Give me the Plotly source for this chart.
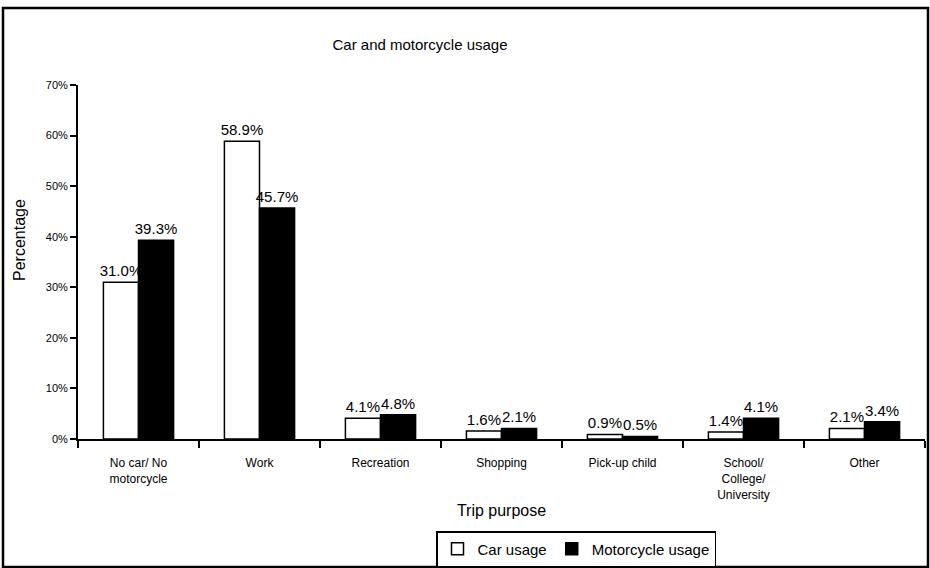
import plotly.graph_objects as go

# Trip purposes and shares of respondents (%)
categories = ["No car/ No<br>motorcycle", "Work", "Recreation", "Shopping",
              "Pick-up child", "School/<br>College/<br>University", "Other"]
car_usage = [31.0, 58.9, 4.1, 1.6, 0.9, 1.4, 2.1]
motorcycle_usage = [39.3, 45.7, 4.8, 2.1, 0.5, 4.1, 3.4]
y_ticks = [0, 10, 20, 30, 40, 50, 60, 70]
y_tick_labels = [f"{v}%" for v in y_ticks]

W, H = 930, 568
L, R, T, B = 78, 5, 85, 129
FONT = "Liberation Sans, Arial, sans-serif"

fig = go.Figure()
fig.add_trace(go.Bar(
    name="Car usage", x=categories, y=car_usage,
    marker=dict(color="white", line=dict(color="black", width=1.5)),
    text=[f"{v:.1f}%" for v in car_usage], textposition="outside",
    constraintext="none",
    textfont=dict(size=15, color="black", family=FONT), cliponaxis=False,
))
fig.add_trace(go.Bar(
    name="Motorcycle usage", x=categories, y=motorcycle_usage,
    marker=dict(color="black", line=dict(color="black", width=1.5)),
    text=[f"{v:.1f}%" for v in motorcycle_usage], textposition="outside",
    constraintext="none",
    textfont=dict(size=15, color="black", family=FONT), cliponaxis=False,
))

pw = W - L - R
ph = H - T - B

def px_x(x):
    return (x - L) / pw

def px_y(y):
    return (H - B - y) / ph

fig.update_layout(
    width=W, height=H,
    margin=dict(l=L, r=R, t=T, b=B, autoexpand=False),
    paper_bgcolor="white", plot_bgcolor="white",
    font=dict(family=FONT, color="black"),
    barmode="group", bargap=0.42, bargroupgap=0,
    title=dict(text="Car and motorcycle usage", x=420 / W, xanchor="center",
               y=1 - 45 / H, yanchor="middle", font=dict(size=15)),
    showlegend=True,
    legend=dict(orientation="h", x=px_x(576), xanchor="center",
                y=px_y(549), yanchor="middle",
                bordercolor="black", borderwidth=1.5,
                font=dict(size=15), traceorder="normal",
                itemwidth=30, tracegroupgap=0),
    xaxis=dict(
        showline=True, linecolor="black", linewidth=2,
        ticks="outside", tickson="boundaries", ticklen=7, tickcolor="black",
        tickwidth=2, tickfont=dict(size=12), tickangle=0,
        ticklabelstandoff=12,
        title=dict(text="Trip purpose", font=dict(size=16), standoff=4),
    ),
    yaxis=dict(
        range=[0, 70], tickvals=y_ticks, ticktext=y_tick_labels,
        showline=True, linecolor="black", linewidth=2, showgrid=False,
        zeroline=False, ticks="outside", ticklen=6, tickcolor="black",
        tickwidth=2, tickfont=dict(size=11),
    ),
)

# Y-axis title, placed a little above the plot's vertical centre
fig.add_annotation(text="Percentage", textangle=-90, showarrow=False,
                   xref="paper", yref="paper", x=px_x(19), y=px_y(240),
                   xanchor="center", yanchor="middle", font=dict(size=16))

# Frame around the whole chart
fig.add_shape(type="rect", xref="paper", yref="paper",
              x0=px_x(3), x1=px_x(928), y0=px_y(567), y1=px_y(8),
              line=dict(color="black", width=2.5), fillcolor="rgba(0,0,0,0)")

fig.write_html("out.html")
